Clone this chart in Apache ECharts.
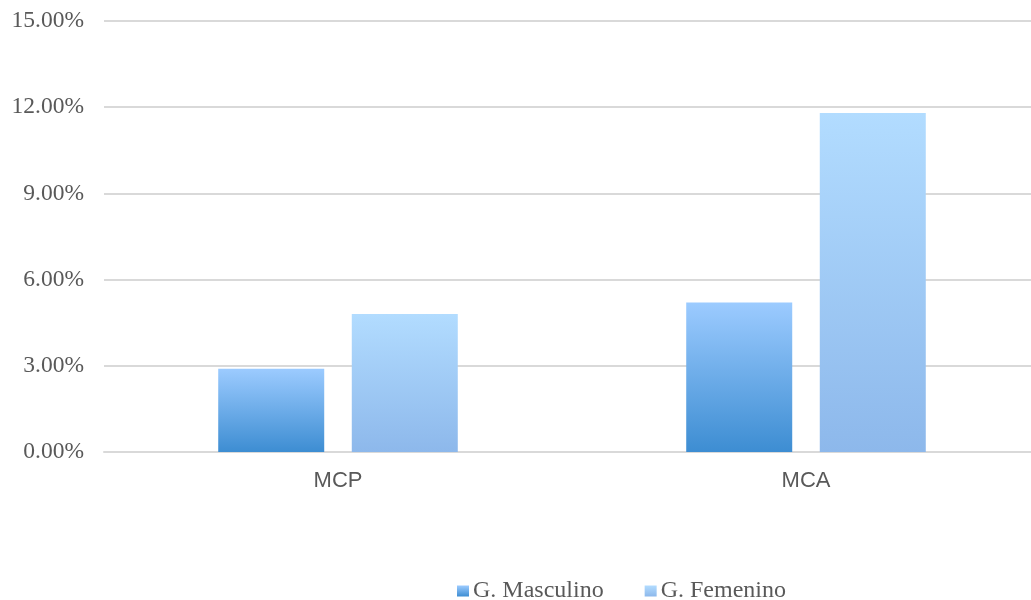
<!DOCTYPE html>
<html>
<head>
<meta charset="utf-8">
<script src="https://cdn.jsdelivr.net/npm/echarts@6/dist/echarts.min.js"></script>
<style>
html,body{margin:0;padding:0;background:#fff;overflow:hidden;width:1031px;height:600px;}
#chart{width:1040px;height:600px;}
</style>
</head>
<body>
<div id="chart"></div>
<script>
// Grupos evaluados y porcentaje por sexo
const categories = ['MCP', 'MCA'];
const masculino = [2.9, 5.2];
const femenino = [4.8, 11.8];
const seriesNames = ['G. Masculino', 'G. Femenino'];

const chart = echarts.init(document.getElementById('chart'));

function grad(top, bottom) {
  return new echarts.graphic.LinearGradient(0, 0, 0, 1, [
    { offset: 0, color: top },
    { offset: 1, color: bottom }
  ]);
}

chart.setOption({
  animation: false,
  backgroundColor: '#ffffff',
  grid: { left: 104, top: 21, width: 936, height: 431, containLabel: false },
  legend: {
    left: 452,
    top: 574,
    itemWidth: 12,
    itemHeight: 11,
    itemGap: 41,
    icon: 'rect',
    textStyle: { fontFamily: 'Liberation Serif', fontSize: 24, color: '#595959', padding: [0, 0, 0, -1] },
    data: seriesNames
  },
  xAxis: {
    type: 'category',
    data: categories,
    axisLine: { show: true, lineStyle: { color: '#d9d9d9', width: 2 } },
    axisTick: { show: false },
    axisLabel: { fontFamily: 'Liberation Sans', fontSize: 22, color: '#595959', margin: 18 }
  },
  yAxis: {
    type: 'value',
    min: 0,
    max: 15,
    interval: 3,
    axisLine: { show: false },
    axisTick: { show: false },
    splitLine: { lineStyle: { color: '#d9d9d9', width: 2 } },
    axisLabel: {
      fontFamily: 'Liberation Serif',
      fontSize: 23.5,
      color: '#595959',
      margin: 20,
      formatter: v => v.toFixed(2) + '%'
    }
  },
  series: [
    {
      name: seriesNames[0],
      type: 'bar',
      data: masculino,
      barWidth: 106,
      barGap: '26%',
      itemStyle: { color: grad('#9ccbff', '#3d8dd2') }
    },
    {
      name: seriesNames[1],
      type: 'bar',
      data: femenino,
      barWidth: 106,
      itemStyle: { color: grad('#b2dcff', '#8db8eb') }
    }
  ]
});
</script>
</body>
</html>
